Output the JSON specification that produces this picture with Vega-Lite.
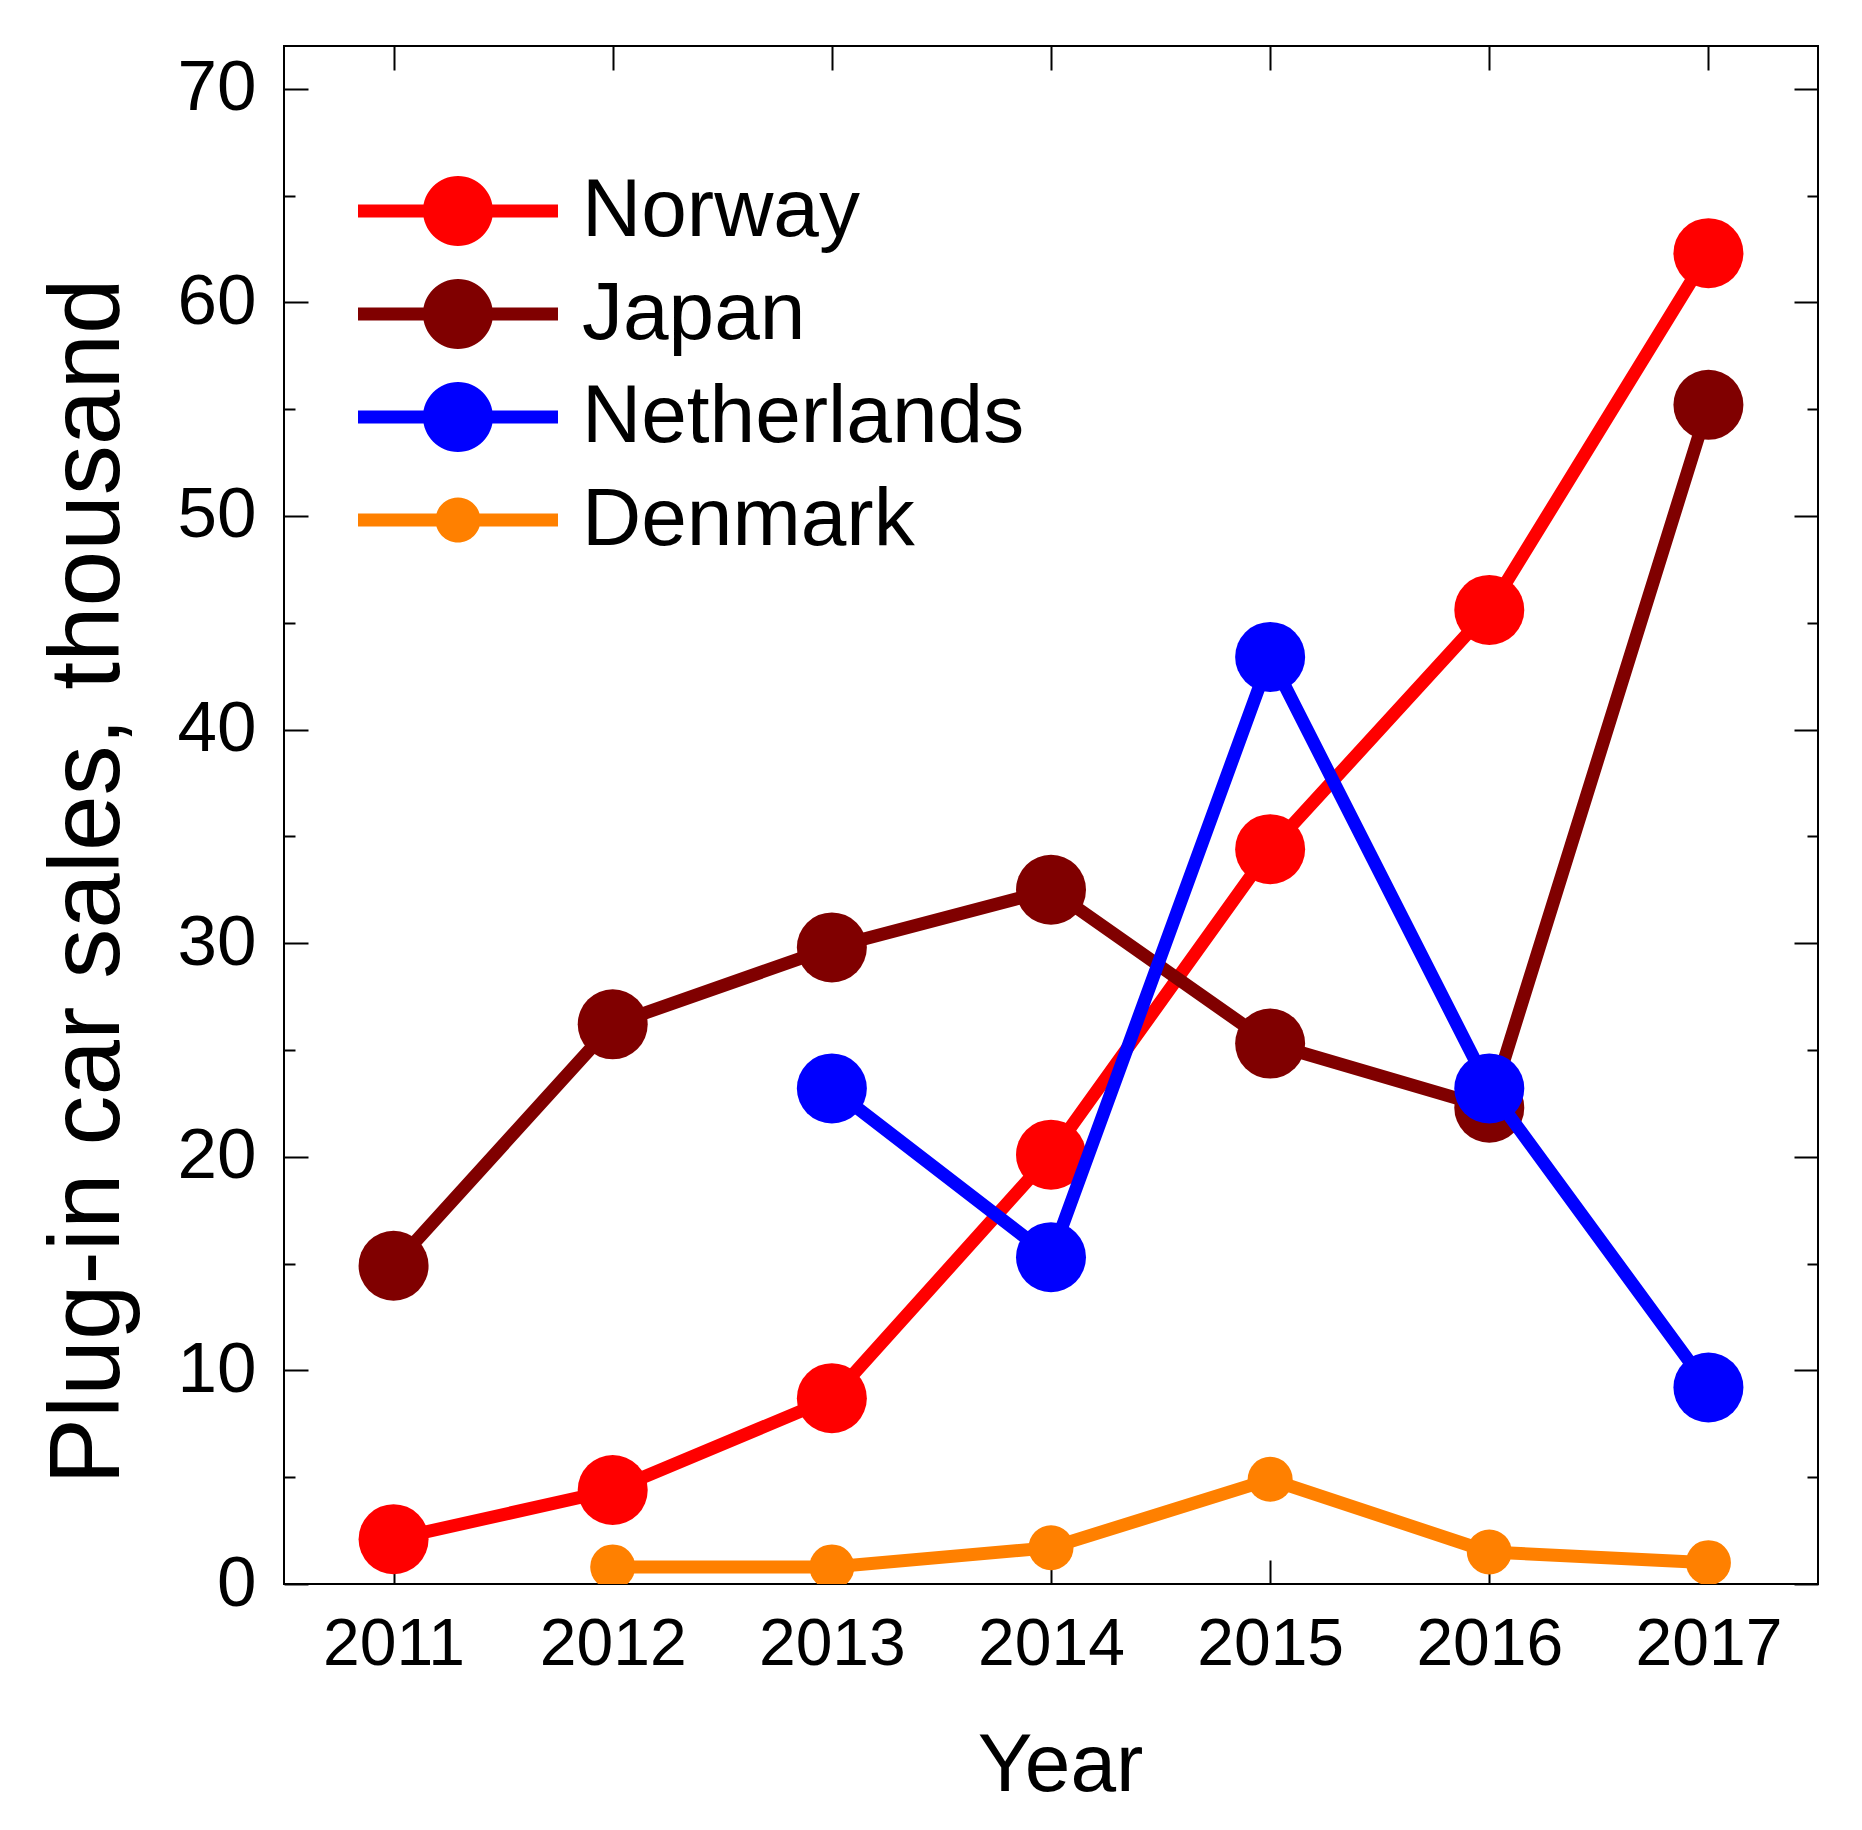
{
  "$schema": "https://vega.github.io/schema/vega-lite/v6.json",
  "width": 1534,
  "height": 1538,
  "autosize": {"type": "none"},
  "padding": {"left": 284, "top": 46, "right": 44, "bottom": 246},
  "background": "white",
  "config": {
    "font": "Liberation Sans",
    "view": {"stroke": "black", "strokeWidth": 2},
    "axis": {
      "grid": false,
      "domain": false,
      "tickColor": "black",
      "tickWidth": 2,
      "labelColor": "black",
      "titleColor": "black",
      "labelFont": "Liberation Sans",
      "titleFont": "Liberation Sans",
      "titleFontWeight": "normal"
    }
  },
  "data": {
    "values": [
      {"country": "Norway", "year": 2011, "sales": 2.1},
      {"country": "Norway", "year": 2012, "sales": 4.4},
      {"country": "Norway", "year": 2013, "sales": 8.7},
      {"country": "Norway", "year": 2014, "sales": 20.1},
      {"country": "Norway", "year": 2015, "sales": 34.4},
      {"country": "Norway", "year": 2016, "sales": 45.6},
      {"country": "Norway", "year": 2017, "sales": 62.3},
      {"country": "Japan", "year": 2011, "sales": 14.9},
      {"country": "Japan", "year": 2012, "sales": 26.2},
      {"country": "Japan", "year": 2013, "sales": 29.8},
      {"country": "Japan", "year": 2014, "sales": 32.5},
      {"country": "Japan", "year": 2015, "sales": 25.3},
      {"country": "Japan", "year": 2016, "sales": 22.3},
      {"country": "Japan", "year": 2017, "sales": 55.2},
      {"country": "Netherlands", "year": 2013, "sales": 23.2},
      {"country": "Netherlands", "year": 2014, "sales": 15.3},
      {"country": "Netherlands", "year": 2015, "sales": 43.4},
      {"country": "Netherlands", "year": 2016, "sales": 23.2},
      {"country": "Netherlands", "year": 2017, "sales": 9.2},
      {"country": "Denmark", "year": 2012, "sales": 0.8},
      {"country": "Denmark", "year": 2013, "sales": 0.8},
      {"country": "Denmark", "year": 2014, "sales": 1.7},
      {"country": "Denmark", "year": 2015, "sales": 4.9},
      {"country": "Denmark", "year": 2016, "sales": 1.5},
      {"country": "Denmark", "year": 2017, "sales": 1.0}
    ]
  },
  "layer": [
    {
      "mark": {"type": "point", "opacity": 0},
      "encoding": {
        "x": {
          "field": "year", "type": "quantitative",
          "scale": {"domain": [2010.5, 2017.5], "nice": false, "zero": false},
          "axis": {"orient": "top", "values": [2011, 2012, 2013, 2014, 2015, 2016, 2017], "labels": false, "tickSize": -24, "title": null}
        },
        "y": {
          "field": "sales", "type": "quantitative",
          "scale": {"domain": [0, 72], "nice": false},
          "axis": {"orient": "right", "values": [0, 10, 20, 30, 40, 50, 60, 70], "labels": false, "tickSize": -24, "title": null}
        }
      }
    },
    {
      "mark": {"type": "point", "opacity": 0},
      "encoding": {
        "x": {"field": "year", "type": "quantitative", "axis": null},
        "y": {
          "field": "sales", "type": "quantitative",
          "axis": {"orient": "left", "values": [5, 15, 25, 35, 45, 55, 65], "labels": false, "tickSize": -11, "title": null}
        }
      }
    },
    {
      "mark": {"type": "point", "opacity": 0},
      "encoding": {
        "x": {"field": "year", "type": "quantitative", "axis": null},
        "y": {
          "field": "sales", "type": "quantitative",
          "axis": {"orient": "right", "values": [5, 15, 25, 35, 45, 55, 65], "labels": false, "tickSize": -11, "title": null}
        }
      }
    },
    {
      "encoding": {
        "x": {
          "field": "year", "type": "quantitative",
          "axis": {
            "orient": "bottom",
            "values": [2011, 2012, 2013, 2014, 2015, 2016, 2017],
            "format": "d",
            "tickSize": -24,
            "labelFontSize": 66,
            "labelPadding": 52,
            "title": "Year",
            "titleFontSize": 82,
            "titleBaseline": "alphabetic",
            "titleAlign": "center",
            "titleX": 776,
            "titleY": 206
          }
        },
        "y": {
          "field": "sales", "type": "quantitative",
          "axis": {
            "orient": "left",
            "values": [0, 10, 20, 30, 40, 50, 60, 70],
            "tickSize": -24,
            "labelFontSize": 71,
            "labelPadding": 52,
            "title": "Plug-in car sales,  thousand",
            "titleFontSize": 100,
            "titleAngle": 270,
            "titleBaseline": "alphabetic",
            "titleAlign": "center",
            "titleX": -166,
            "titleY": 835
          }
        },
        "color": {
          "field": "country", "type": "nominal",
          "scale": {
            "domain": ["Norway", "Japan", "Netherlands", "Denmark"],
            "range": ["#FF0000", "#800000", "#0000FF", "#FF8000"]
          },
          "legend": {
            "title": null,
            "orient": "none",
            "legendX": 133,
            "legendY": 124,
            "padding": 0,
            "symbolType": "M-2.857,-0.186L2.857,-0.186L2.857,0.186L-2.857,0.186Z M-1,0A1,1 0 1,1 1,0A1,1 0 1,1 -1,0Z",
            "symbolSize": 4900,
            "symbolStrokeWidth": 0,
            "labelFontSize": 82,
            "labelColor": "black",
            "labelLimit": 0,
            "labelOffset": 83,
            "rowPadding": 21,
            "encode": {
              "symbols": {
                "update": {
                  "shape": {"signal": "datum.value === 'Denmark' ? 'M-2.857,-0.186L2.857,-0.186L2.857,0.186L-2.857,0.186Z M-0.643,0A0.643,0.643 0 1,1 0.643,0A0.643,0.643 0 1,1 -0.643,0Z' : 'M-2.857,-0.186L2.857,-0.186L2.857,0.186L-2.857,0.186Z M-1,0A1,1 0 1,1 1,0A1,1 0 1,1 -1,0Z'"},
                  "fill": {"signal": "scale('color', datum.value)"},
                  "stroke": {"value": "transparent"},
                  "opacity": {"value": 1},
                  "fillOpacity": {"value": 1}
                }
              }
            }
          }
        }
      },
      "layer": [
        {
          "transform": [{"filter": "datum.country === 'Norway'"}],
          "layer": [
            {"mark": {"type": "line", "strokeWidth": 13, "clip": true}},
            {"mark": {"type": "point", "filled": true, "size": 4900, "opacity": 1, "clip": true}}
          ]
        },
        {
          "transform": [{"filter": "datum.country === 'Japan'"}],
          "layer": [
            {"mark": {"type": "line", "strokeWidth": 13, "clip": true}},
            {"mark": {"type": "point", "filled": true, "size": 4900, "opacity": 1, "clip": true}}
          ]
        },
        {
          "transform": [{"filter": "datum.country === 'Netherlands'"}],
          "layer": [
            {"mark": {"type": "line", "strokeWidth": 13, "clip": true}},
            {"mark": {"type": "point", "filled": true, "size": 4900, "opacity": 1, "clip": true}}
          ]
        },
        {
          "transform": [{"filter": "datum.country === 'Denmark'"}],
          "layer": [
            {"mark": {"type": "line", "strokeWidth": 13, "clip": true}},
            {"mark": {"type": "point", "filled": true, "size": 2025, "opacity": 1, "clip": true}}
          ]
        }
      ]
    }
  ],
  "resolve": {"axis": {"x": "independent", "y": "independent"}}
}
